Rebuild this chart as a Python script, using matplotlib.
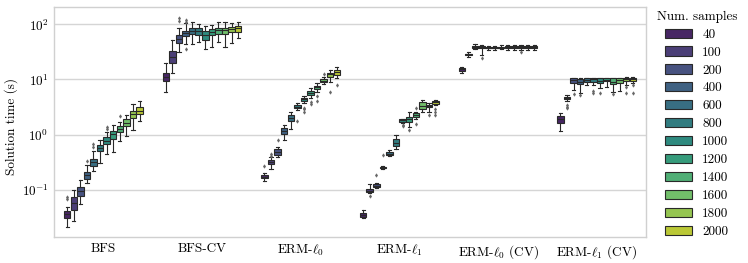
import colorsys
import matplotlib
matplotlib.use("Agg")
import matplotlib.pyplot as plt
import numpy as np
from matplotlib.patches import Patch
from matplotlib.ticker import NullLocator

plt.rcParams['font.family'] = ['cmr10', 'DejaVu Serif']
plt.rcParams['mathtext.fontset'] = 'cm'
plt.rcParams['axes.formatter.use_mathtext'] = True

methods = ["BFS", "BFS-CV", r"ERM-$\ell_0$", r"ERM-$\ell_1$",
           r"ERM-$\ell_0$ (CV)", r"ERM-$\ell_1$ (CV)"]
samples = [40, 100, 200, 400, 600, 800, 1000, 1200, 1400, 1600, 1800, 2000]

# ---- BFS ----
bfs_lo = [0.0207, 0.0269, 0.0548, 0.130, 0.220, 0.308, 0.443, 0.488, 0.771, 0.951, 1.21, 1.78]
bfs_q1 = [0.0309, 0.0427, 0.0775, 0.156, 0.272, 0.502, 0.664, 0.828, 1.10, 1.44, 2.02, 2.36]
bfs_med = [0.0356, 0.0571, 0.0944, 0.186, 0.313, 0.576, 0.762, 1.01, 1.26, 1.64, 2.33, 2.70]
bfs_q3 = [0.0409, 0.0725, 0.110, 0.209, 0.355, 0.637, 0.889, 1.17, 1.43, 1.89, 2.67, 3.12]
bfs_hi = [0.049, 0.0984, 0.149, 0.279, 0.502, 0.785, 1.12, 1.49, 1.71, 2.26, 3.58, 4.10]
bfs_fl = [[0.0725, 0.0667], [], [], [0.330], [0.664, 0.60], [], [1.35, 1.26], [], [2.17], [], [], []]

# ---- BFS-CV ----
bfscv_lo = [5.98, 13.2, 31.8, 43.4, 43.9, 47.1, 35.2, 39.2, 47.1, 39.2, 46.4, 55.7]
bfscv_q1 = [9.35, 19.6, 46.4, 61.3, 65.9, 64.0, 51.9, 64.0, 66.7, 67.5, 73.4, 73.4]
bfscv_med = [11.2, 25.8, 54.1, 68.7, 76.5, 75.6, 64.0, 73.4, 77.8, 78.8, 81.2, 84.6]
bfscv_q3 = [13.2, 33.2, 63.9, 75.6, 84.6, 84.6, 76.5, 81.2, 84.6, 86.8, 88.3, 93.1]
bfscv_hi = [20.1, 51.9, 86.8, 104, 109, 101, 94.4, 97.1, 109, 109, 104, 111]
bfscv_fl = [[], [], [132, 116], [120, 109, 35.2], [], [], [], [], [], [], [], []]

# ---- ERM-l0 ----
erm0_lo = [0.145, 0.237, 0.386, 0.794, 1.26, 2.79, 3.78, 4.54, 5.98, 8.25, 9.09, 10.5]
erm0_q1 = [0.160, 0.292, 0.425, 1.02, 1.78, 2.99, 4.06, 5.21, 6.70, 8.97, 11.2, 12.0]
erm0_med = [0.171, 0.321, 0.488, 1.16, 2.02, 3.20, 4.35, 5.74, 7.19, 9.47, 12.4, 13.5]
erm0_q3 = [0.182, 0.344, 0.539, 1.30, 2.26, 3.43, 4.66, 6.15, 7.69, 10.0, 13.2, 14.8]
erm0_hi = [0.198, 0.386, 0.601, 1.49, 2.53, 3.68, 5.00, 6.89, 8.49, 11.2, 14.8, 16.6]
erm0_fl = [[0.268], [0.449, 0.407], [0.80], [], [], [1.76], [2.99, 2.85, 2.6],
           [3.84, 3.53], [5.06, 4.06], [12.4], [5.98], [7.91]]

# ---- ERM-l1 ----
erm1_lo = [0.0301, 0.0879, 0.108, 0.237, 0.407, 0.539, 1.60, 1.39, 1.91, 2.53, 2.59, 3.43]
erm1_q1 = [0.0322, 0.0916, 0.110, 0.244, 0.425, 0.618, 1.71, 1.71, 2.10, 2.90, 3.12, 3.58]
erm1_med = [0.0346, 0.0955, 0.116, 0.250, 0.449, 0.710, 1.81, 1.89, 2.26, 3.33, 3.29, 3.84]
erm1_q3 = [0.0372, 0.101, 0.125, 0.257, 0.475, 0.818, 1.89, 2.05, 2.43, 3.84, 3.43, 4.06]
erm1_hi = [0.0427, 0.126, 0.130, 0.265, 0.517, 0.979, 1.91, 2.53, 2.59, 4.23, 3.68, 4.23]
erm1_fl = [[], [0.0766], [0.184], [0.425], [], [], [1.51, 1.43], [1.21], [2.99, 1.55],
           [], [2.26], [2.87, 2.59, 2.26]]

# ---- ERM-l0 (CV) ----
erm0cv_lo = [13.2, 25.8, 35, 28, 34, 34, 35, 34, 34, 34, 34, 34]
erm0cv_q1 = [14.4, 27.7, 38, 37, 36.5, 36.5, 37, 38, 38, 38, 38, 38]
erm0cv_med = [15.3, 28.5, 39.5, 38.5, 37.5, 37.5, 38, 39, 39, 39, 39, 39]
erm0cv_q3 = [15.9, 29.3, 41, 40, 39, 39, 39.5, 40.5, 40.5, 40.5, 40.5, 40.5]
erm0cv_hi = [17.0, 31.0, 44, 43, 41, 41, 41.5, 42, 42, 42, 42, 42]
erm0cv_fl = [[], [], [], [24.1], [], [], [], [], [], [31.8], [], []]

# ---- ERM-l1 (CV) ----
erm1cv_lo = [1.17, 4.10, 6.42, 5.74, 7.91, 7.91, 6.89, 7.37, 5.98, 6.15, 7.91, 8.49]
erm1cv_q1 = [1.60, 4.35, 8.71, 8.25, 9.09, 9.09, 8.49, 9.35, 8.25, 8.71, 9.47, 9.47]
erm1cv_med = [1.89, 4.60, 9.75, 9.09, 9.75, 10.0, 9.35, 9.75, 9.09, 9.75, 10.2, 10.2]
erm1cv_q3 = [2.17, 4.85, 10.5, 10.2, 10.5, 10.5, 10.5, 10.5, 10.5, 10.5, 10.7, 10.7]
erm1cv_hi = [2.43, 5.21, 10.7, 10.5, 10.7, 10.7, 10.7, 10.7, 10.7, 10.7, 10.9, 10.9]
erm1cv_fl = [[], [3.43, 3.20, 2.99], [5.43], [5.21], [], [6.2, 5.7], [5.59], [], [5.43],
             [], [7.19, 5.74], [7.91, 5.59]]

groups = [
    (bfs_lo, bfs_q1, bfs_med, bfs_q3, bfs_hi, bfs_fl),
    (bfscv_lo, bfscv_q1, bfscv_med, bfscv_q3, bfscv_hi, bfscv_fl),
    (erm0_lo, erm0_q1, erm0_med, erm0_q3, erm0_hi, erm0_fl),
    (erm1_lo, erm1_q1, erm1_med, erm1_q3, erm1_hi, erm1_fl),
    (erm0cv_lo, erm0cv_q1, erm0cv_med, erm0cv_q3, erm0cv_hi, erm0cv_fl),
    (erm1cv_lo, erm1cv_q1, erm1cv_med, erm1cv_q3, erm1cv_hi, erm1cv_fl),
]

# colours: seaborn-like viridis palette, desaturated 0.75
cmap = plt.get_cmap("viridis")
n = len(samples)
raw = [cmap(v)[:3] for v in np.linspace(0, 1, n + 2)[1:-1]]
cols = []
for c in raw:
    h, l, s = colorsys.rgb_to_hls(*c)
    cols.append(colorsys.hls_to_rgb(h, l, s * 0.75))
lum = min(colorsys.rgb_to_hls(*c)[1] for c in cols) * 0.6
gray = (lum, lum, lum)

fig = plt.figure(figsize=(7.48, 2.63), dpi=100)
ax = fig.add_axes([0.0722, 0.0977, 0.7914, 0.8745])
ax.set_yscale("log")

width = 0.8 / n
lw = 0.8
for k in range(n):
    stats = []
    pos = []
    for g, (lo, q1, med, q3, hi, fl) in enumerate(groups):
        stats.append(dict(whislo=lo[k], q1=q1[k], med=med[k], q3=q3[k],
                          whishi=hi[k], fliers=fl[k]))
        pos.append(g - 0.4 + width / 2 + k * width)
    ax.bxp(stats, positions=pos, widths=width * 0.98, patch_artist=True,
           manage_ticks=False,
           boxprops=dict(facecolor=cols[k], edgecolor=gray, linewidth=lw),
           medianprops=dict(color=gray, linewidth=lw),
           whiskerprops=dict(color=gray, linewidth=lw),
           capprops=dict(color=gray, linewidth=lw),
           flierprops=dict(marker='d', markerfacecolor='#666666', markeredgecolor='#666666',
                           markersize=1.7, markeredgewidth=0.5, linestyle='none'))

ax.set_xlim(-0.5, len(methods) - 0.5)
ax.set_ylim(0.0136, 204)
ax.set_xticks(range(len(methods)))
ax.set_xticklabels(methods, fontsize=9.5)
ax.yaxis.set_minor_locator(NullLocator())
ax.tick_params(axis='both', length=0, labelsize=9.5, pad=4)
ax.set_ylabel("Solution time (s)", fontsize=9.5)
ax.yaxis.set_label_coords(-0.0603, 0.48)
ax.grid(axis='y', color='#d5d5d5', linewidth=1.0)
ax.set_axisbelow(True)
for sp in ax.spines.values():
    sp.set_color('#d0d0d0')
    sp.set_linewidth(1.0)

handles = [Patch(facecolor=cols[k], edgecolor=gray, linewidth=lw) for k in range(n)]
ax.legend(handles, [str(s) for s in samples], title="Num. samples",
          loc='upper left', bbox_to_anchor=(1.009, 1.008), borderaxespad=0,
          frameon=False, fontsize=9.5, title_fontsize=9.5, labelspacing=0.43)

fig.savefig("out.png", dpi=100)
